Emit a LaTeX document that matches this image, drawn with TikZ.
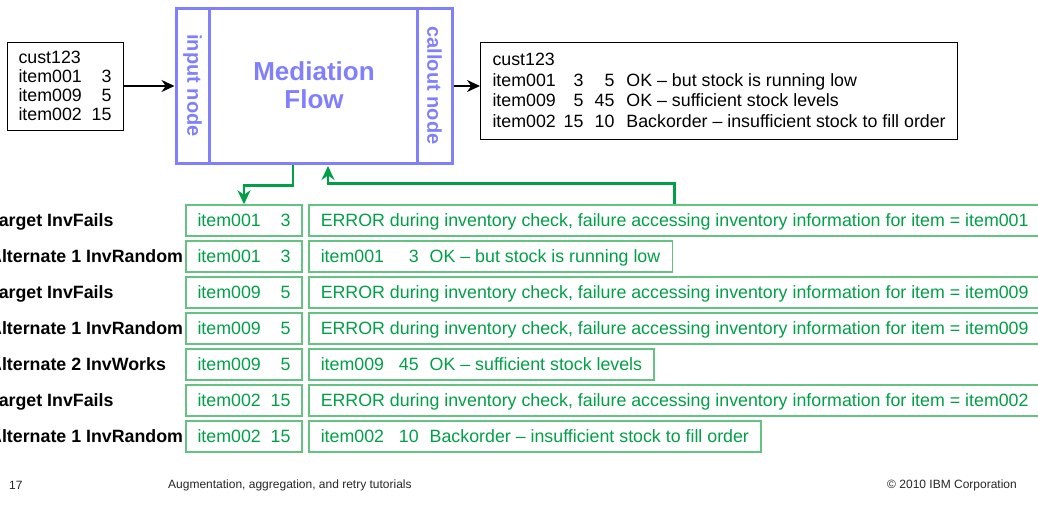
\documentclass[tikz,border=0pt]{standalone}
\usepackage{fontspec}
\setmainfont{Liberation Sans}
\usetikzlibrary{positioning,arrows.meta}

\definecolor{flowblue}{RGB}{128,128,255}
\definecolor{okgreen}{RGB}{0,160,70}
\definecolor{boxgreen}{RGB}{100,195,130}

% item columns for the order messages
\newcommand{\inrow}[2]{\makebox[62pt][l]{#1}\makebox[31pt][r]{#2}}
\newcommand{\outrow}[4]{\makebox[63pt][l]{#1}\makebox[28pt][r]{#2}\makebox[31pt][r]{#3}\hspace{12pt}#4}
\newcommand{\resrow}[3]{\makebox[62pt][l]{#1}\makebox[36pt][r]{#2}\hspace{11pt}#3}

\begin{document}
\begin{tikzpicture}[x=1pt,y=-1pt,
        every node/.style={font=\fontsize{17.8}{19.2}\selectfont, inner sep=0pt},
        databox/.style={draw, line width=1pt, align=left, inner xsep=11pt},
        flowbox/.style={draw=flowblue, line width=3pt, text=flowblue, align=center,
                font=\fontsize{26}{28}\selectfont\bfseries},
        strip/.style={draw=flowblue, line width=3pt, text=flowblue, rotate=-90,
                minimum width=155pt, font=\fontsize{20}{22}\selectfont\bfseries},
        target/.style={anchor=west, font=\fontsize{17.8}{19.2}\selectfont\bfseries,
                text height=16.5pt, text depth=4pt},
        reqbox/.style={draw=boxgreen, line width=1.5pt, text=okgreen, minimum width=116pt,
                minimum height=31pt, text height=16.5pt, text depth=4pt},
        resbox/.style={reqbox, minimum width=0pt, anchor=west, inner xsep=12pt},
        flowarrow/.style={-{Stealth[length=13pt,width=12pt]}, line width=1.8pt},
        backarrow/.style={-{Stealth[length=14pt,width=13pt]}, draw=okgreen, line width=2.5pt},
        footer/.style={font=\fontsize{12}{14}\selectfont, text=black!85}]
    \useasboundingbox (0,0) rectangle (1038,504);

    % request, mediation flow and response
    \node[databox, minimum width=116pt, minimum height=88pt] (inbox) at (65,86)
        {cust123\\ \inrow{item001}{3}\\ \inrow{item009}{5}\\ \inrow{item002}{15}};
    \node[flowbox, minimum width=276pt, minimum height=155pt] (flow) at (314,85.5)
        {Mediation\\Flow};
    \node[strip, minimum height=33pt] (innode) at (192.5,85.5) {input node};
    \node[strip, minimum height=35pt] (callout) at (434.5,85.5) {callout node};
    \node[databox, anchor=west, minimum height=97pt, inner xsep=12pt,
          font=\fontsize{17.8}{20.7}\selectfont] (outbox) at (480,90.5)
        {cust123\\ \outrow{item001}{3}{5}{OK -- but stock is running low}\\
         \outrow{item009}{5}{45}{OK -- sufficient stock levels}\\
         \outrow{item002}{15}{10}{Backorder -- insufficient stock to fill order}};

    \draw[flowarrow] (inbox.east) -- (inbox.east -| flow.west);
    \draw[flowarrow] (flow.east |- inbox.east) -- (outbox.west |- inbox.east);

    % callout attempts, one row per service call
    \node[target] (t1) at (-11,220.5) {Target InvFails};
    \node[target] (t2) at (-11,256.5) {Alternate 1 InvRandom};
    \node[target] (t3) at (-11,292.5) {Target InvFails};
    \node[target] (t4) at (-11,328.5) {Alternate 1 InvRandom};
    \node[target] (t5) at (-11,364.5) {Alternate 2 InvWorks};
    \node[target] (t6) at (-11,400.5) {Target InvFails};
    \node[target] (t7) at (-11,436.5) {Alternate 1 InvRandom};

    \node[reqbox] (r1) at (244,220.5) {\inrow{item001}{3}};
    \node[reqbox] (r2) at (244,256.5) {\inrow{item001}{3}};
    \node[reqbox] (r3) at (244,292.5) {\inrow{item009}{5}};
    \node[reqbox] (r4) at (244,328.5) {\inrow{item009}{5}};
    \node[reqbox] (r5) at (244,364.5) {\inrow{item009}{5}};
    \node[reqbox] (r6) at (244,400.5) {\inrow{item002}{15}};
    \node[reqbox] (r7) at (244,436.5) {\inrow{item002}{15}};

    \node[resbox] (m1) at (308,220.5) {ERROR during inventory check, failure accessing inventory information for item = item001};
    \node[resbox] (m2) at (308,256.5) {\resrow{item001}{3}{OK -- but stock is running low}};
    \node[resbox] (m3) at (308,292.5) {ERROR during inventory check, failure accessing inventory information for item = item009};
    \node[resbox] (m4) at (308,328.5) {ERROR during inventory check, failure accessing inventory information for item = item009};
    \node[resbox] (m5) at (308,364.5) {\resrow{item009}{45}{OK -- sufficient stock levels}};
    \node[resbox] (m6) at (308,400.5) {ERROR during inventory check, failure accessing inventory information for item = item002};
    \node[resbox] (m7) at (308,436.5) {\resrow{item002}{10}{Backorder -- insufficient stock to fill order}};

    \draw[backarrow] ([xshift=-21pt]flow.south) -- ++(0,21) -| (r1.north);
    \draw[backarrow, shorten >=1.5pt] (m1.north) -- ++(0,-21) -| ([xshift=14pt]flow.south);

    % page footer
    \node[footer, anchor=west] (page) at (9,485) {17};
    \node[footer, anchor=west] (title) at (168,485) {Augmentation, aggregation, and retry tutorials};
    \node[footer, anchor=east] (copy) at (1017,485) {\copyright{} 2010 IBM Corporation};
\end{tikzpicture}
\end{document}
